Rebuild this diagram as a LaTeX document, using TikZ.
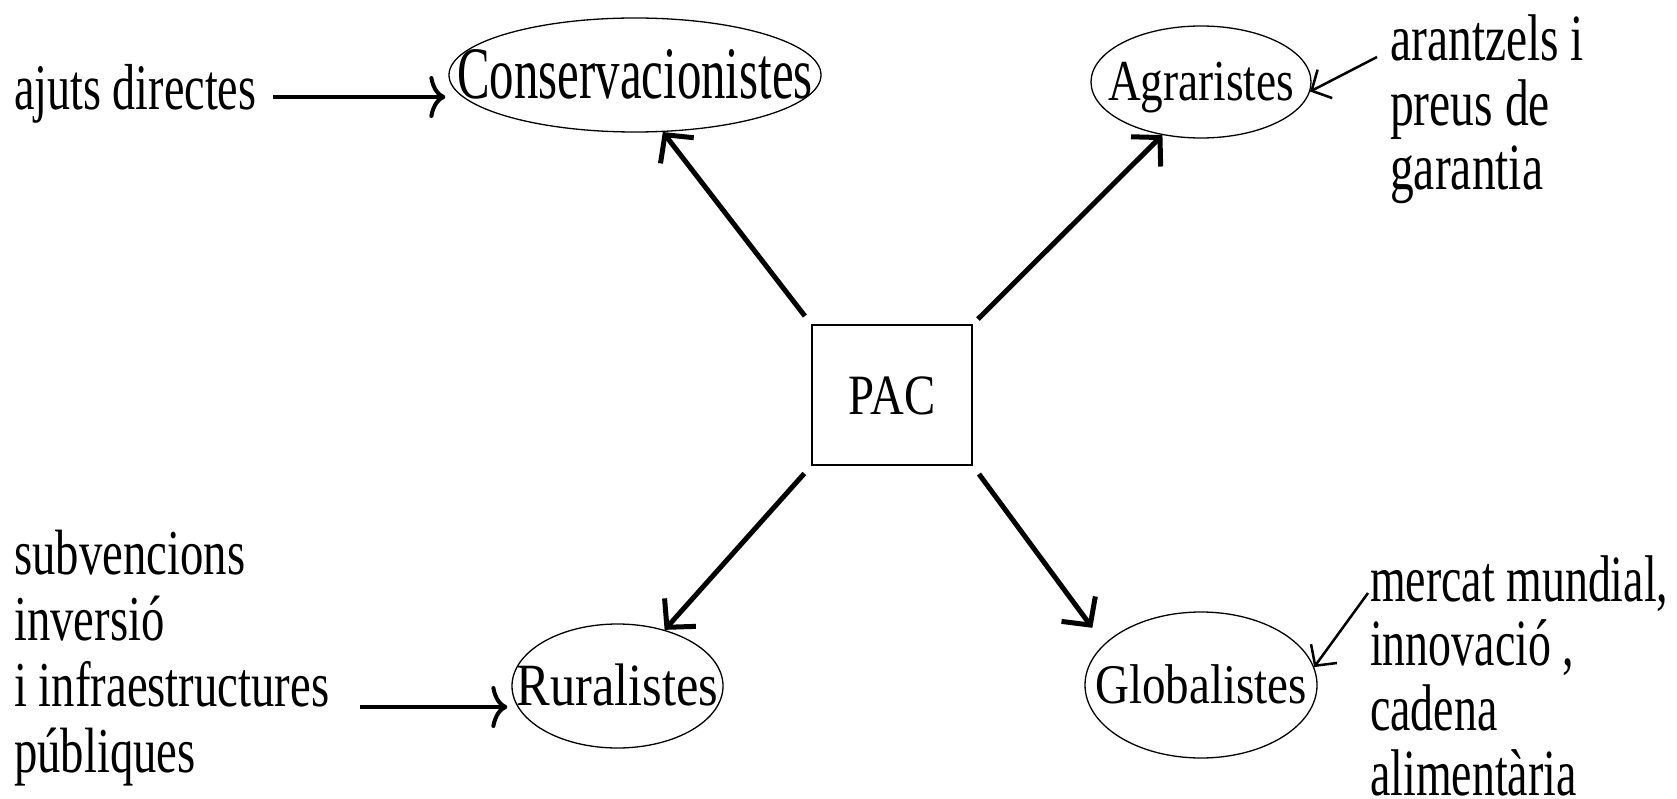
\documentclass[tikz,border=0pt]{standalone}
\usepackage{fontspec}
\setmainfont{Liberation Serif}
\usepackage{graphicx}
\usetikzlibrary{arrows.meta,shapes.geometric}
\newcommand{\sq}[2]{\scalebox{#1}[1]{\begin{tabular}[t]{@{}l@{}}#2\end{tabular}}}
\newcommand{\sx}[2]{\makebox[0pt]{\scalebox{#1}[1]{#2}}}
\newcommand{\fs}[2]{\fontsize{#1}{#2}\selectfont}
\begin{document}
\begin{tikzpicture}[x=1pt,y=-1pt,
  oval/.style={draw, ellipse, line width=1.3pt, inner sep=0pt, text depth=0pt},
  lbl/.style={anchor=base west, inner sep=0pt},
  big/.style={line width=5pt, -{Straight Barb[length=20pt,width=42pt]}},
  side/.style={line width=4pt, -{Computer Modern Rightarrow[length=16pt,width=42pt]}},
  thin/.style={line width=2.5pt, -{Straight Barb[length=15pt,width=32pt]}}]
\useasboundingbox (0,0) rectangle (1677,799);
\node[draw, line width=2pt, minimum width=160pt, minimum height=140pt, inner sep=0pt, text height=38pt, text depth=0pt] (pac) at (892,395) {\fs{57}{66}\sx{0.82}{PAC}};
\node[oval, minimum width=372pt, minimum height=114pt, text height=48pt] (cons) at (635,75) {\fs{74}{80}\sx{0.66}{Conservacionistes}};
\node[oval, minimum width=220pt, minimum height=112pt, text height=38pt] (agr) at (1201,82) {\fs{58}{60}\sx{0.78}{Agraristes}};
\node[oval, minimum width=211pt, minimum height=124pt, text height=38pt] (rur) at (617.5,686) {\fs{60}{66}\sx{0.84}{Ruralistes}};
\node[oval, minimum width=232pt, minimum height=146pt, text height=37pt] (glob) at (1201,685) {\fs{56}{60}\sx{0.84}{Globalistes}};
\node[lbl] (ajuts) at (14,110) {\fs{65}{60}\sq{0.71}{ajuts directes}};
\node[lbl] (subv) at (14,574) {\fs{64}{66}\sq{0.73}{subvencions\\inversió\\i infraestructures\\públiques}};
\node[lbl] (aran) at (1390,61) {\fs{66}{64}\sq{0.72}{arantzels i\\preus de\\garantia}};
\node[lbl, text depth=192pt] (merc) at (1370,601) {\fs{66}{63}\sq{0.695}{mercat mundial,\\innovació ,\\cadena\\alimentària}};
\draw[big, shorten <=10pt] (pac.north west) -- (cons.-64);
\draw[big, shorten <=7pt] (pac.north east) -- (agr.-126);
\draw[big, shorten <=10pt] (pac.south west) -- (rur.50);
\draw[big, shorten <=10pt, shorten >=20pt] (pac.south east) -- (glob.157);
\coordinate (ajs) at (273,97);
\draw[side, shorten >=3pt] (ajs) -- (ajs -| cons.west);
\coordinate (rus) at (360,707);
\draw[side, shorten >=4pt] (rus) -- (rus -| rur.west);
\coordinate (ars) at (1377,57);
\draw[thin] (ars) -- (agr.-5);
\coordinate (mes) at (1368,593);
\draw[thin] (mes) -- (glob.9);
\end{tikzpicture}
\end{document}
